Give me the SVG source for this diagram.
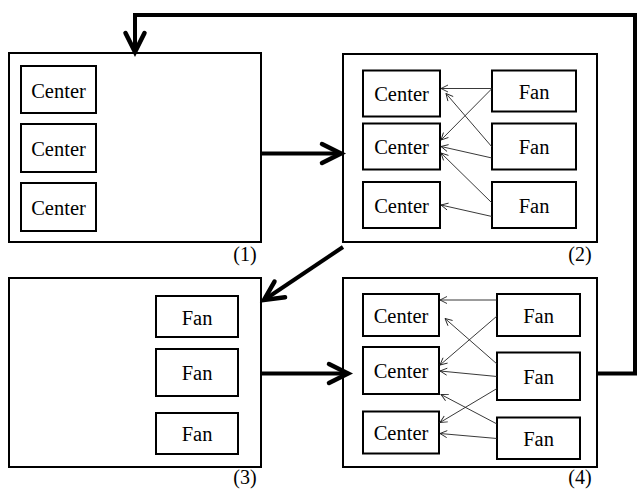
<svg xmlns="http://www.w3.org/2000/svg" width="638" height="489" viewBox="0 0 638 489">
  <style>
    .panel { fill: #fff; stroke: #000; stroke-width: 2; }
    .box { fill: #fff; stroke: #000; stroke-width: 2; }
    .lbl { font-family: "Liberation Serif", "Times New Roman", serif; font-size: 20.5px; fill: #000; text-anchor: middle; }
    .tag { font-family: "Liberation Serif", "Times New Roman", serif; font-size: 20px; fill: #000; text-anchor: middle; }
    .thin { fill: none; stroke: #222; stroke-width: 0.9; marker-end: url(#thinHead); }
    .thick { fill: none; stroke: #000; stroke-width: 4; stroke-linejoin: miter; }
    .thickArrow { fill: none; stroke: #000; stroke-width: 4; marker-end: url(#thickHead); }
  </style>
  <defs>
    <marker id="thinHead" markerUnits="userSpaceOnUse" viewBox="-10 -6 12 12" refX="0" refY="0" markerWidth="12" markerHeight="12" orient="auto" overflow="visible">
      <path d="M-7,-3.5 L0,0 L-7,3.5" fill="none" stroke="#222" stroke-width="0.9"/>
    </marker>
    <marker id="thickHead" markerUnits="userSpaceOnUse" viewBox="-24 -14 28 28" refX="0" refY="0" markerWidth="28" markerHeight="28" orient="auto" overflow="visible">
      <path d="M-19,-9.5 L0,0 L-19,9.5" fill="none" stroke="#000" stroke-width="4.5" stroke-linecap="round" stroke-linejoin="miter"/>
    </marker>
  </defs>

  <!-- stage (1): centers only -->
  <g id="panel1">
    <rect class="panel" x="9" y="53" width="252" height="189"/>
    <g id="p1-center1"><rect class="box" x="21" y="66" width="75" height="47"/><text class="lbl" x="58.5" y="97.5">Center</text></g>
    <g id="p1-center2"><rect class="box" x="21" y="124" width="75" height="48"/><text class="lbl" x="58.5" y="156">Center</text></g>
    <g id="p1-center3"><rect class="box" x="21" y="183" width="75" height="48"/><text class="lbl" x="58.5" y="215">Center</text></g>
    <text class="tag" x="245" y="260.5">(1)</text>
  </g>

  <!-- stage (2): fans report to centers -->
  <g id="panel2">
    <rect class="panel" x="343" y="54" width="254" height="188"/>
    <g id="p2-center1"><rect class="box" x="363" y="70.5" width="77" height="46"/><text class="lbl" x="401.5" y="101">Center</text></g>
    <g id="p2-center2"><rect class="box" x="363" y="123.5" width="77" height="46"/><text class="lbl" x="401.5" y="154">Center</text></g>
    <g id="p2-center3"><rect class="box" x="363" y="182" width="77" height="46"/><text class="lbl" x="401.5" y="212.5">Center</text></g>
    <g id="p2-fan1"><rect class="box" x="492" y="70.5" width="84" height="41"/><text class="lbl" x="534" y="99">Fan</text></g>
    <g id="p2-fan2"><rect class="box" x="492" y="123.5" width="84" height="46"/><text class="lbl" x="534" y="154">Fan</text></g>
    <g id="p2-fan3"><rect class="box" x="492" y="182" width="84" height="46"/><text class="lbl" x="534" y="212.5">Fan</text></g>
    <text class="tag" x="580" y="260.5">(2)</text>
  </g>

  <!-- stage (3): fans only -->
  <g id="panel3">
    <rect class="panel" x="9" y="278" width="252" height="189"/>
    <g id="p3-fan1"><rect class="box" x="156" y="296" width="82" height="41"/><text class="lbl" x="197" y="324.5">Fan</text></g>
    <g id="p3-fan2"><rect class="box" x="156" y="349" width="82" height="47"/><text class="lbl" x="197" y="380">Fan</text></g>
    <g id="p3-fan3"><rect class="box" x="156" y="413" width="82" height="41"/><text class="lbl" x="197" y="441">Fan</text></g>
    <text class="tag" x="245" y="483.5">(3)</text>
  </g>

  <!-- stage (4): fans report to centers -->
  <g id="panel4">
    <rect class="panel" x="343" y="278" width="254" height="189"/>
    <g id="p4-center1"><rect class="box" x="363" y="294" width="76" height="42"/><text class="lbl" x="401" y="322.5">Center</text></g>
    <g id="p4-center2"><rect class="box" x="363" y="347" width="76" height="47"/><text class="lbl" x="401" y="378">Center</text></g>
    <g id="p4-center3"><rect class="box" x="363" y="411.5" width="76" height="42"/><text class="lbl" x="401" y="440">Center</text></g>
    <g id="p4-fan1"><rect class="box" x="497" y="294" width="83" height="42"/><text class="lbl" x="538.5" y="322.5">Fan</text></g>
    <g id="p4-fan2"><rect class="box" x="497" y="352.5" width="83" height="47.5"/><text class="lbl" x="538.5" y="384">Fan</text></g>
    <g id="p4-fan3"><rect class="box" x="497" y="417.5" width="83" height="41.5"/><text class="lbl" x="538.5" y="446">Fan</text></g>
    <text class="tag" x="580" y="483.5">(4)</text>
  </g>

  <g id="connectors">
    <!-- stage (2) reports -->
    <line class="thin" x1="492" y1="88.5" x2="441" y2="88.5"/>
    <line class="thin" x1="492" y1="88.5" x2="441" y2="140"/>
    <line class="thin" x1="492" y1="147" x2="446" y2="93.5"/>
    <line class="thin" x1="492" y1="158" x2="441" y2="146.5"/>
    <line class="thin" x1="492" y1="203" x2="441" y2="153"/>
    <line class="thin" x1="492" y1="216.5" x2="441" y2="205"/>

    <!-- stage (4) reports -->
    <line class="thin" x1="497" y1="300" x2="440" y2="300"/>
    <line class="thin" x1="497" y1="316" x2="440" y2="365"/>
    <line class="thin" x1="497" y1="364" x2="445" y2="318.5"/>
    <line class="thin" x1="497" y1="376.5" x2="440" y2="371"/>
    <line class="thin" x1="497" y1="388.5" x2="440" y2="422.5"/>
    <line class="thin" x1="497" y1="424" x2="441" y2="394.5"/>
    <line class="thin" x1="497" y1="438.5" x2="440" y2="433.5"/>

    <!-- transitions between stages -->
    <line class="thickArrow" x1="262" y1="153.5" x2="341" y2="153.5"/>
    <line class="thickArrow" x1="343" y1="247" x2="264" y2="300"/>
    <line class="thickArrow" x1="262" y1="373.5" x2="348" y2="373.5"/>
    <polyline class="thick" points="597,373.5 635,373.5 635,15 135,15 135,40"/>
    <line class="thickArrow" x1="135" y1="30" x2="135" y2="52"/>
  </g>
</svg>
